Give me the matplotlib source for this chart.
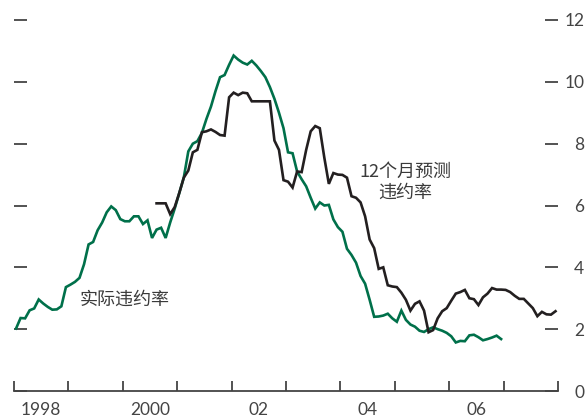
import matplotlib
matplotlib.use("Agg")
import matplotlib.pyplot as plt
import numpy as np

plt.rcParams['font.family'] = ['Noto Sans CJK SC', 'DejaVu Sans']

# monthly default rates (%), actual starts Jan 1998, forecast starts Aug 2000
actual = [2.02, 2.36, 2.35, 2.61, 2.67, 2.96, 2.83, 2.72, 2.63, 2.64,
          2.74, 3.36, 3.44, 3.53, 3.66, 4.10, 4.74, 4.82, 5.20, 5.45,
          5.78, 5.97, 5.85, 5.56, 5.49, 5.49, 5.65, 5.65, 5.40, 5.52,
          4.95, 5.22, 5.28, 4.95, 5.45, 5.90, 6.40, 6.90, 7.75, 8.00,
          8.08, 8.35, 8.80, 9.20, 9.70, 10.15, 10.22, 10.55, 10.85, 10.72,
          10.62, 10.56, 10.68, 10.53, 10.35, 10.15, 9.83, 9.45, 9.00, 8.50,
          7.72, 7.69, 7.10, 6.85, 6.62, 6.25, 5.90, 6.10, 6.00, 6.02,
          5.55, 5.30, 5.15, 4.60, 4.40, 4.15, 3.72, 3.47, 2.95, 2.40,
          2.41, 2.44, 2.50, 2.35, 2.24, 2.60, 2.30, 2.15, 2.08, 1.95,
          1.91, 2.00, 2.06, 2.00, 1.95, 1.88, 1.77, 1.57, 1.62, 1.61,
          1.80, 1.82, 1.74, 1.64, 1.68, 1.73, 1.79, 1.68]
forecast_start = 31
forecast = [6.07, 6.07, 6.07, 5.72, 5.95, 6.40, 6.90, 7.13, 7.72, 7.80,
            8.37, 8.40, 8.46, 8.38, 8.28, 8.26, 9.50, 9.65, 9.57, 9.65,
            9.63, 9.37, 9.37, 9.37, 9.37, 9.37, 8.10, 7.80, 6.82, 6.77,
            6.58, 7.10, 7.08, 7.80, 8.40, 8.57, 8.50, 7.55, 6.70, 7.05,
            7.00, 6.99, 6.90, 6.30, 6.25, 6.10, 5.65, 4.90, 4.62, 3.95,
            4.00, 3.42, 3.38, 3.36, 3.18, 2.95, 2.60, 2.82, 2.90, 2.60,
            1.90, 1.97, 2.35, 2.58, 2.68, 2.92, 3.15, 3.20, 3.27, 3.00,
            2.97, 2.78, 3.03, 3.15, 3.33, 3.28, 3.28, 3.27, 3.20, 3.08,
            2.98, 2.98, 2.83, 2.68, 2.42, 2.56, 2.48, 2.47, 2.58]

year_ticks = list(range(1998, 2009))
label_years = [1998.5, 2000.5, 2002.5, 2004.5, 2006.5]
label_text = ['1998', '2000', '02', '04', '06']
y_ticks = [0, 2, 4, 6, 8, 10, 12]

t_actual = 1998 + (np.arange(len(actual)) + 0.45) / 12
t_forecast = 1998 + (np.arange(len(forecast)) + forecast_start + 0.45) / 12

green = '#00704a'
black = '#231f20'
grey = '#444444'

fig = plt.figure(figsize=(5.88, 4.18), dpi=100)
ax = fig.add_axes([14 / 588, 1 - 391 / 418, 544 / 588, 371 / 418])

ax.plot(t_actual, actual, color=green, lw=1.9, solid_joinstyle='miter')
ax.plot(t_forecast, forecast, color=black, lw=1.9, solid_joinstyle='miter')

ax.set_xlim(1998, 2008)
ax.set_ylim(0, 12)

for s in ['top', 'left', 'right']:
    ax.spines[s].set_visible(False)
ax.spines['bottom'].set_color(grey)
ax.spines['bottom'].set_linewidth(1.3)

ax.set_xticks(year_ticks)
ax.set_xticklabels([])
ax.set_xticks(label_years, minor=True)
ax.set_xticklabels(label_text, minor=True)
ax.tick_params(axis='x', which='major', direction='in', length=7, width=1.3, color=grey)
ax.tick_params(axis='x', which='minor', length=0, pad=8, labelsize=12.5, labelcolor=grey)

ax.set_yticks(y_ticks)
ax.tick_params(axis='y', direction='in', left=True, right=True, labelleft=False,
               labelright=True, length=9.5, width=1.3, color=grey,
               labelsize=12.5, labelcolor=grey, pad=19)
for lab in ax.get_yticklabels() + ax.get_xticklabels(minor=True):
    lab.set_family(['Lato', 'DejaVu Sans'])
    lab.set_fontweight('normal')
for lab in ax.get_yticklabels():
    lab.set_horizontalalignment('right')

ax.text(2000.03, 2.95, '实际违约率', fontsize=13, color='#3a3a3a',
        ha='center', va='center')
ax.text(2005.2, 6.75, '12个月预测\n违约率', fontsize=13, color='#3a3a3a',
        ha='center', va='center', linespacing=1.15)

fig.savefig('out.png', dpi=100)
